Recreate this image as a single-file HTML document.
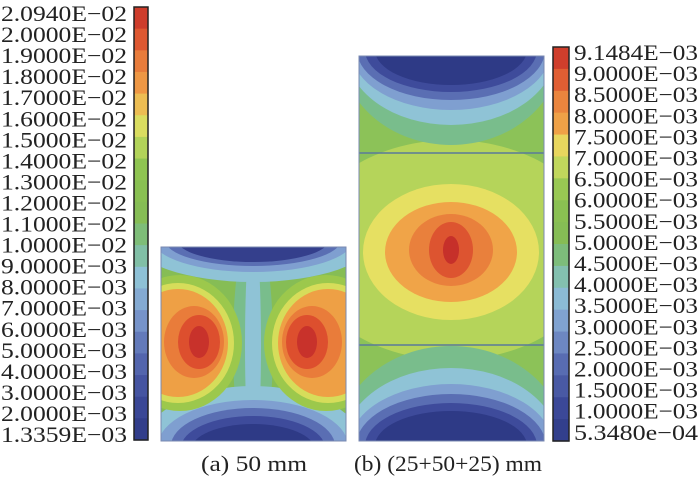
<!DOCTYPE html>
<html><head><meta charset="utf-8"><style>
html,body{margin:0;background:#fff;width:700px;height:478px;overflow:hidden}
svg{display:block}
text{font-family:"Liberation Serif",serif;fill:#222}
</style></head><body>
<svg width="700" height="478" viewBox="0 0 700 478">
<defs>
<clipPath id="ca"><rect x="161" y="247" width="185" height="194"/></clipPath>
<clipPath id="cb"><rect x="359" y="56" width="185" height="385"/></clipPath>
</defs>
<g id="cbl"></g>
<g id="cbr"></g>
<g clip-path="url(#ca)">
<rect x="161" y="247" width="185" height="194" fill="#86bd55"/>
<ellipse cx="253" cy="345" rx="20" ry="120" fill="#79bd8c"/>
<ellipse cx="253" cy="345" rx="8" ry="120" fill="#8fc3d6"/>
<ellipse cx="253" cy="240" rx="120" ry="42" fill="#8fc3d6"/>
<ellipse cx="253" cy="240" rx="100" ry="32" fill="#7f9fd0"/>
<ellipse cx="253" cy="240" rx="88" ry="26" fill="#5a6eb3"/>
<ellipse cx="253" cy="240" rx="76" ry="22" fill="#343f8c"/>
<ellipse cx="253" cy="446" rx="110" ry="60" fill="#8fc3d6"/>
<ellipse cx="253" cy="446" rx="95" ry="46" fill="#7f9fd0"/>
<ellipse cx="253" cy="446" rx="82" ry="38" fill="#5a6eb3"/>
<ellipse cx="253" cy="448" rx="72" ry="32" fill="#3e4b9b"/>
<ellipse cx="253" cy="450" rx="62" ry="26" fill="#2e3a86"/>
<g>
<ellipse cx="180" cy="343" rx="62" ry="68" fill="#9cc84c"/>
<ellipse cx="178" cy="343" rx="56" ry="60" fill="#d6dd5a"/>
<ellipse cx="178" cy="343" rx="50" ry="54" fill="#eea045"/>
<ellipse cx="194" cy="342" rx="30" ry="36" fill="#e97c3a"/>
<ellipse cx="199" cy="342" rx="21" ry="27" fill="#dd4f2e"/>
<ellipse cx="199" cy="342" rx="10" ry="16" fill="#c8322b"/>
</g>
<g transform="translate(506,0) scale(-1,1)">
<ellipse cx="180" cy="343" rx="62" ry="68" fill="#9cc84c"/>
<ellipse cx="178" cy="343" rx="56" ry="60" fill="#d6dd5a"/>
<ellipse cx="178" cy="343" rx="50" ry="54" fill="#eea045"/>
<ellipse cx="194" cy="342" rx="30" ry="36" fill="#e97c3a"/>
<ellipse cx="199" cy="342" rx="21" ry="27" fill="#dd4f2e"/>
<ellipse cx="199" cy="342" rx="10" ry="16" fill="#c8322b"/>
</g>
</g>
<rect x="161" y="247" width="185" height="194" fill="none" stroke="#7a8ab0" stroke-width="1"/>
<g clip-path="url(#cb)">
<rect x="359" y="56" width="185" height="385" fill="#8cc258"/>
<ellipse cx="451" cy="250" rx="150" ry="110" fill="#b5d45a"/>
<ellipse cx="451" cy="252" rx="88" ry="68" fill="#e6e062"/>
<ellipse cx="451" cy="252" rx="66" ry="50" fill="#f0a448"/>
<ellipse cx="451" cy="250" rx="42" ry="36" fill="#e9803c"/>
<ellipse cx="451" cy="250" rx="22" ry="28" fill="#dd5430"/>
<ellipse cx="451" cy="250" rx="8" ry="14" fill="#c6302a"/>
<ellipse cx="451" cy="50" rx="110" ry="95" fill="#79bd8c"/>
<ellipse cx="451" cy="50" rx="105" ry="75" fill="#8fc3d6"/>
<ellipse cx="451" cy="50" rx="100" ry="60" fill="#7f9fd0"/>
<ellipse cx="451" cy="50" rx="94" ry="50" fill="#5a6eb3"/>
<ellipse cx="451" cy="50" rx="86" ry="42" fill="#3e4b9b"/>
<ellipse cx="451" cy="50" rx="76" ry="35" fill="#2e3a86"/>
<ellipse cx="451" cy="446" rx="115" ry="100" fill="#79bd8c"/>
<ellipse cx="451" cy="446" rx="108" ry="78" fill="#8fc3d6"/>
<ellipse cx="451" cy="446" rx="102" ry="62" fill="#7f9fd0"/>
<ellipse cx="451" cy="446" rx="95" ry="52" fill="#5a6eb3"/>
<ellipse cx="451" cy="446" rx="86" ry="43" fill="#3e4b9b"/>
<ellipse cx="451" cy="446" rx="76" ry="35" fill="#2e3a86"/>
</g>
<line x1="359" y1="153" x2="544" y2="153" stroke="#5a7a9a" stroke-width="1.5"/>
<line x1="359" y1="345" x2="544" y2="345" stroke="#5a7a9a" stroke-width="1.5"/>
<rect x="359" y="56" width="185" height="385" fill="none" stroke="#7a8ab0" stroke-width="1"/>
<text x="254" y="471" font-size="22" text-anchor="middle" textLength="106" lengthAdjust="spacingAndGlyphs">(a) 50 mm</text>
<text x="448" y="471" font-size="22" text-anchor="middle" textLength="188" lengthAdjust="spacingAndGlyphs">(b) (25+50+25) mm</text>
<g id="labels"></g>
</svg>
<script>
var NS="http://www.w3.org/2000/svg";
function el(t,a,p){var e=document.createElementNS(NS,t);for(var k in a)e.setAttribute(k,a[k]);p.appendChild(e);return e;}
var stops=[[0,[46,58,134]],[0.1,[62,75,155]],[0.2,[90,110,179]],[0.3,[127,159,208]],[0.38,[143,195,214]],[0.45,[121,189,140]],[0.52,[134,189,85]],[0.62,[140,194,80]],[0.68,[181,212,90]],[0.74,[230,224,98]],[0.8,[240,164,72]],[0.87,[233,128,60]],[0.93,[221,84,48]],[1,[198,48,42]]];
function cm(t){for(var i=1;i<stops.length;i++){if(t<=stops[i][0]){var a=stops[i-1],b=stops[i],f=(t-a[0])/(b[0]-a[0]);var c=a[1].map(function(v,j){return Math.round(v+(b[1][j]-v)*f)});return "rgb("+c+")";}}return "rgb(198,48,42)";}
function bar(g,x,y0,y1,w,n){var h=(y1-y0)/n;for(var i=0;i<n;i++){el("rect",{x:x,y:y0+i*h,width:w,height:h+0.6,fill:cm(1-(i+0.5)/n)},g);}el("rect",{x:x,y:y0,width:w,height:y1-y0,fill:"none",stroke:"#222","stroke-width":1.5},g);}
bar(document.getElementById("cbl"),134,7,440,14,20);
bar(document.getElementById("cbr"),553,47,441,16,18);
var L=["2.0940E\u221202","2.0000E\u221202","1.9000E\u221202","1.8000E\u221202","1.7000E\u221202","1.6000E\u221202","1.5000E\u221202","1.4000E\u221202","1.3000E\u221202","1.2000E\u221202","1.1000E\u221202","1.0000E\u221202","9.0000E\u221203","8.0000E\u221203","7.0000E\u221203","6.0000E\u221203","5.0000E\u221203","4.0000E\u221203","3.0000E\u221203","2.0000E\u221203","1.3359E\u221203"];
var R=["9.1484E\u221203","9.0000E\u221203","8.5000E\u221203","8.0000E\u221203","7.5000E\u221203","7.0000E\u221203","6.5000E\u221203","6.0000E\u221203","5.5000E\u221203","5.0000E\u221203","4.5000E\u221203","4.0000E\u221203","3.5000E\u221203","3.0000E\u221203","2.5000E\u221203","2.0000E\u221203","1.5000E\u221203","1.0000E\u221203","5.3480e\u221204"];
var g=document.getElementById("labels");
L.forEach(function(s,i){var t=el("text",{x:1,y:21+i*21.05,"font-size":22,textLength:126,lengthAdjust:"spacingAndGlyphs"},g);t.textContent=s;});
R.forEach(function(s,i){var t=el("text",{x:574,y:60+i*21.1,"font-size":22,textLength:124,lengthAdjust:"spacingAndGlyphs"},g);t.textContent=s;});
</script>
</body></html>
